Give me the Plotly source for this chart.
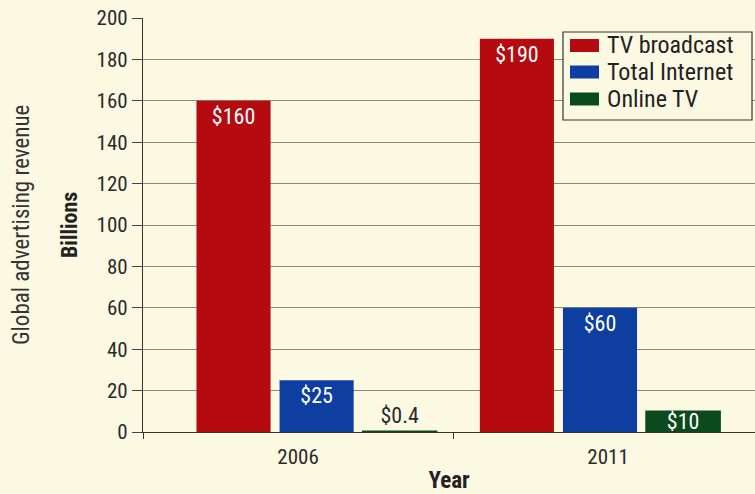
import plotly.graph_objects as go

# Data
years = ["2006", "2011"]
series_names = ["TV broadcast", "Total Internet", "Online TV"]
tv_broadcast = [160, 190]
total_internet = [25, 60]
online_tv = [0.4, 10]
y_ticks = [0, 20, 40, 60, 80, 100, 120, 140, 160, 180, 200]

BG = "#fcf9e2"
COLORS = ["#b40a10", "#0d3ea0", "#0b4a1c"]
FONT = "Roboto Condensed, sans-serif"

# Bar geometry in category units
BAR_W = 0.239
SLOT = 0.268
GROUP_SHIFT = [0.06, -0.026]   # per-year nudge of the whole group

def fmt(v):
    return f"${v:g}"

fig = go.Figure()
values = [tv_broadcast, total_internet, online_tv]
for i, (name, vals, col) in enumerate(zip(series_names, values, COLORS)):
    offsets = [-1.5 * SLOT + (SLOT - BAR_W) / 2 + i * SLOT + s for s in GROUP_SHIFT]
    positions = ["inside" if v >= 5 else "outside" for v in vals]
    tcolors = ["white" if v >= 5 else "#2a2a2a" for v in vals]
    fig.add_trace(go.Bar(
        x=years, y=vals, name=name,
        marker=dict(color=col, line=dict(color=col, width=1.5 if i == 2 else 0)),
        width=BAR_W, offset=offsets,
        text=[fmt(v) for v in vals], textposition=positions,
        insidetextanchor="middle" if i == 2 else "end", constraintext="none",
        textfont=dict(family=FONT, size=22, color=tcolors),
        cliponaxis=False,
        showlegend=False,
    ))

fig.update_layout(
    width=755, height=494,
    margin=dict(l=143, r=0, t=18, b=62),
    paper_bgcolor=BG, plot_bgcolor=BG,
    font=dict(family=FONT, color="#2a2a2a"),
    xaxis=dict(
        type="category", range=[-0.5, 1.474], automargin=False,
        tickson="boundaries", ticks="outside", ticklen=6, tickcolor="#333",
        tickfont=dict(size=21, color="#2a2a2a"), ticklabelstandoff=6,
        showline=True, linecolor="#333", linewidth=1.2,
        showgrid=False,
        title=dict(text="<b>Year</b>", font=dict(size=23, color="#222"), standoff=13),
    ),
    yaxis=dict(
        range=[0, 200], tickvals=y_ticks, automargin=False,
        ticks="outside", ticklen=10, tickcolor="#444",
        tickfont=dict(size=21, color="#2a2a2a"),
        showline=True, linecolor="#333", linewidth=1.2,
        showgrid=True, gridcolor="#8c887a", gridwidth=1,
        zeroline=False,
    ),
)

# Axis titles drawn as rotated annotations
fig.add_annotation(text="Global advertising revenue", xref="paper", yref="paper",
                   x=0, y=0.5, xshift=-122, textangle=-90, showarrow=False,
                   font=dict(size=23, color="#333"), xanchor="center", yanchor="middle")
fig.add_annotation(text="<b>Billions</b>", xref="paper", yref="paper",
                   x=0, y=0.5, xshift=-74, textangle=-90, showarrow=False,
                   font=dict(size=22, color="#222"), xanchor="center", yanchor="middle")

# Boxed legend
PW, PH = 612.0, 414.0
def px_x(p):
    return (p - 143) / PW
def px_y(p):
    return (432 - p) / PH

fig.add_shape(type="rect", xref="paper", yref="paper",
              x0=px_x(563), x1=px_x(752), y0=px_y(120), y1=px_y(32),
              line=dict(color="#333", width=1.2), fillcolor=BG, layer="above")
row_y = [45.5, 72, 99]
for name, col, ry in zip(series_names, COLORS, row_y):
    fig.add_shape(type="rect", xref="paper", yref="paper",
                  x0=px_x(570), x1=px_x(599), y0=px_y(ry + 6.5), y1=px_y(ry - 6.5),
                  line=dict(width=0), fillcolor=col, layer="above")
    fig.add_annotation(text=name, xref="paper", yref="paper",
                       x=px_x(605), y=px_y(ry), xanchor="left", yanchor="middle",
                       showarrow=False, font=dict(size=24, color="#222"))

fig.write_html("out.html")
